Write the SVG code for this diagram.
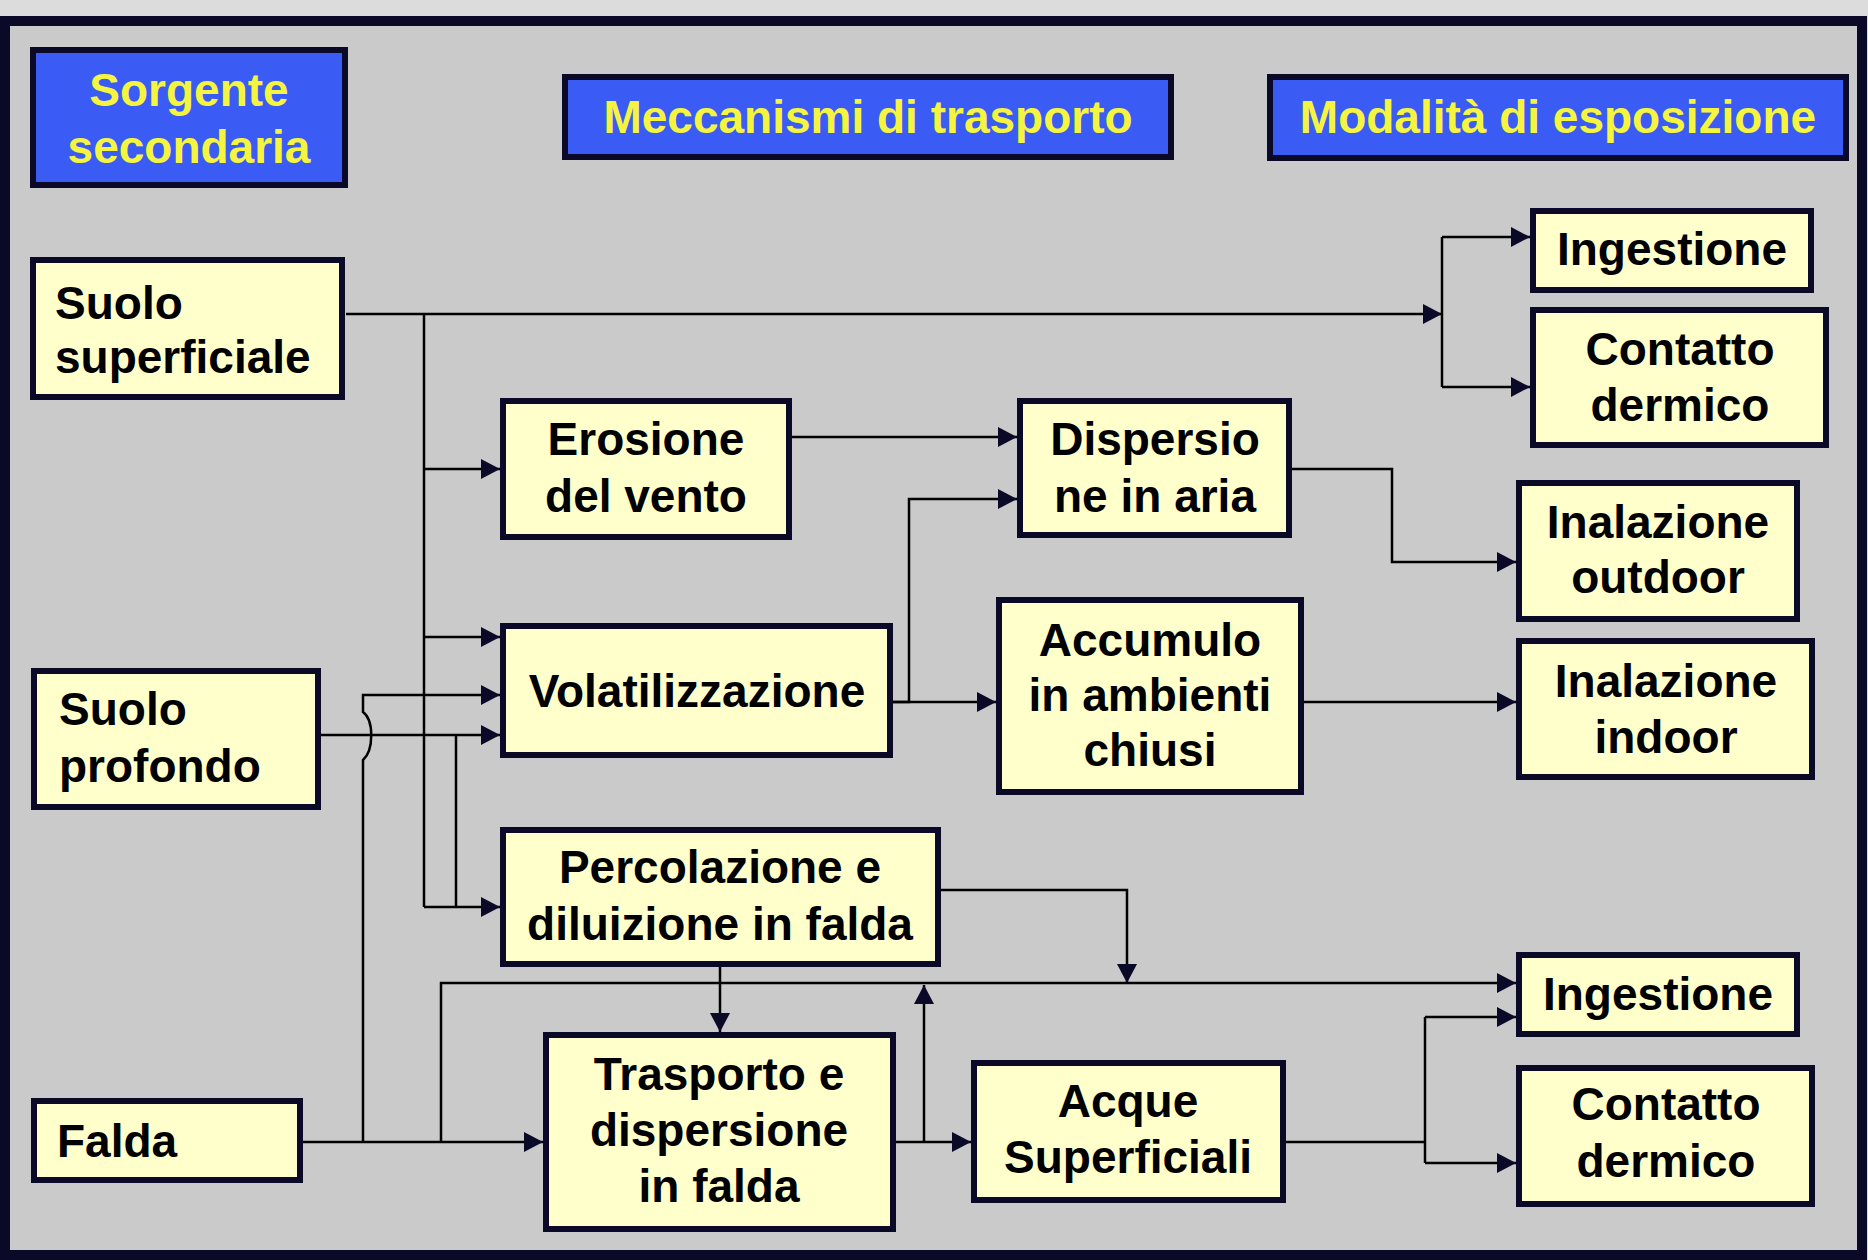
<svg xmlns="http://www.w3.org/2000/svg" width="1868" height="1260" viewBox="0 0 1868 1260">
<style>
.n{fill:#ffffcc;stroke:#0a0a28;stroke-width:6}
.h{fill:#3a5cf5;stroke:#0a0a28;stroke-width:6}
.t{font-family:"Liberation Sans",Arial,sans-serif;font-weight:bold;font-size:46px;fill:#000}
.ht{font-family:"Liberation Sans",Arial,sans-serif;font-weight:bold;font-size:46px;fill:#f5f540}
.c{fill:none;stroke:#000;stroke-width:2.5}
.ar{marker-end:url(#a)}
</style>
<defs>
<marker id="a" markerUnits="userSpaceOnUse" markerWidth="20" markerHeight="20" refX="19" refY="10" orient="auto">
<path d="M0,0 L19,10 L0,20 z" fill="#0a0a28"/>
</marker>
</defs>
<rect x="0" y="0" width="1868" height="1260" fill="#dcdcdc"/>
<rect x="5" y="21" width="1857" height="1234" fill="#cacaca" stroke="#0a0a28" stroke-width="10"/>

<g id="connectors">
<path class="c ar" d="M346,314 H1442"/>
<path class="c" d="M1442,237 V387"/>
<path class="c ar" d="M1442,237 H1530"/>
<path class="c ar" d="M1442,387 H1530"/>
<path class="c" d="M424,314 V907"/>
<path class="c ar" d="M424,469 H500"/>
<path class="c ar" d="M424,637 H500"/>
<path class="c ar" d="M424,907 H500"/>
<path class="c ar" d="M321,735 H500"/>
<path class="c" d="M456,735 V907"/>
<path class="c ar" d="M303,1142 H543"/>
<path class="c ar" d="M363,1142 V760 C374,750 374,720 363,712 V695 H500"/>
<path class="c ar" d="M441,1142 V983 H1516"/>
<path class="c ar" d="M720,967 V1032"/>
<path class="c ar" d="M924,1142 V985"/>
<path class="c ar" d="M896,1142 H971"/>
<path class="c ar" d="M941,890 H1127 V983"/>
<path class="c ar" d="M792,437 H1017"/>
<path class="c ar" d="M893,702 H909 V499 H1017"/>
<path class="c ar" d="M893,702 H996"/>
<path class="c ar" d="M1286,469 H1392 V562 H1516"/>
<path class="c ar" d="M1304,702 H1516"/>
<path class="c" d="M1286,1142 H1425"/>
<path class="c" d="M1425,1017 V1163"/>
<path class="c ar" d="M1425,1017 H1516"/>
<path class="c ar" d="M1425,1163 H1516"/>
</g>

<g id="sorgente">
<rect class="h" x="33" y="50" width="312" height="135"/>
<text class="ht" x="189" y="106" text-anchor="middle">Sorgente</text>
<text class="ht" x="189" y="163" text-anchor="middle">secondaria</text>
</g>
<g id="meccanismi">
<rect class="h" x="565" y="77" width="606" height="80"/>
<text class="ht" x="868" y="133" text-anchor="middle">Meccanismi di trasporto</text>
</g>
<g id="modalita">
<rect class="h" x="1270" y="77" width="576" height="81"/>
<text class="ht" x="1558" y="133" text-anchor="middle">Modalità di esposizione</text>
</g>

<g id="suolo-superficiale">
<rect class="n" x="33" y="260" width="309" height="137"/>
<text class="t" x="55" y="319">Suolo</text>
<text class="t" x="55" y="373">superficiale</text>
</g>
<g id="suolo-profondo">
<rect class="n" x="34" y="671" width="284" height="136"/>
<text class="t" x="59" y="725">Suolo</text>
<text class="t" x="59" y="782">profondo</text>
</g>
<g id="falda">
<rect class="n" x="34" y="1101" width="266" height="79"/>
<text class="t" x="57" y="1157">Falda</text>
</g>

<g id="erosione">
<rect class="n" x="503" y="401" width="286" height="136"/>
<text class="t" x="646" y="455" text-anchor="middle">Erosione</text>
<text class="t" x="646" y="512" text-anchor="middle">del vento</text>
</g>
<g id="dispersione-aria">
<rect class="n" x="1020" y="401" width="269" height="134"/>
<text class="t" x="1155" y="455" text-anchor="middle">Dispersio</text>
<text class="t" x="1155" y="512" text-anchor="middle">ne in aria</text>
</g>
<g id="volatilizzazione">
<rect class="n" x="503" y="626" width="387" height="129"/>
<text class="t" x="697" y="707" text-anchor="middle">Volatilizzazione</text>
</g>
<g id="accumulo">
<rect class="n" x="999" y="600" width="302" height="192"/>
<text class="t" x="1150" y="656" text-anchor="middle">Accumulo</text>
<text class="t" x="1150" y="711" text-anchor="middle">in ambienti</text>
<text class="t" x="1150" y="766" text-anchor="middle">chiusi</text>
</g>
<g id="percolazione">
<rect class="n" x="503" y="830" width="435" height="134"/>
<text class="t" x="720" y="883" text-anchor="middle">Percolazione e</text>
<text class="t" x="720" y="940" text-anchor="middle">diluizione in falda</text>
</g>
<g id="trasporto-falda">
<rect class="n" x="546" y="1035" width="347" height="194"/>
<text class="t" x="719" y="1090" text-anchor="middle">Trasporto e</text>
<text class="t" x="719" y="1146" text-anchor="middle">dispersione</text>
<text class="t" x="719" y="1202" text-anchor="middle">in falda</text>
</g>
<g id="acque-superficiali">
<rect class="n" x="974" y="1063" width="309" height="137"/>
<text class="t" x="1128" y="1117" text-anchor="middle">Acque</text>
<text class="t" x="1128" y="1173" text-anchor="middle">Superficiali</text>
</g>

<g id="ingestione-1">
<rect class="n" x="1533" y="211" width="278" height="79"/>
<text class="t" x="1672" y="265" text-anchor="middle">Ingestione</text>
</g>
<g id="contatto-1">
<rect class="n" x="1533" y="310" width="293" height="135"/>
<text class="t" x="1680" y="365" text-anchor="middle">Contatto</text>
<text class="t" x="1680" y="421" text-anchor="middle">dermico</text>
</g>
<g id="inalazione-outdoor">
<rect class="n" x="1519" y="483" width="278" height="136"/>
<text class="t" x="1658" y="538" text-anchor="middle">Inalazione</text>
<text class="t" x="1658" y="593" text-anchor="middle">outdoor</text>
</g>
<g id="inalazione-indoor">
<rect class="n" x="1519" y="641" width="293" height="136"/>
<text class="t" x="1666" y="697" text-anchor="middle">Inalazione</text>
<text class="t" x="1666" y="753" text-anchor="middle">indoor</text>
</g>
<g id="ingestione-2">
<rect class="n" x="1519" y="955" width="278" height="79"/>
<text class="t" x="1658" y="1010" text-anchor="middle">Ingestione</text>
</g>
<g id="contatto-2">
<rect class="n" x="1519" y="1068" width="293" height="136"/>
<text class="t" x="1666" y="1120" text-anchor="middle">Contatto</text>
<text class="t" x="1666" y="1177" text-anchor="middle">dermico</text>
</g>
</svg>
